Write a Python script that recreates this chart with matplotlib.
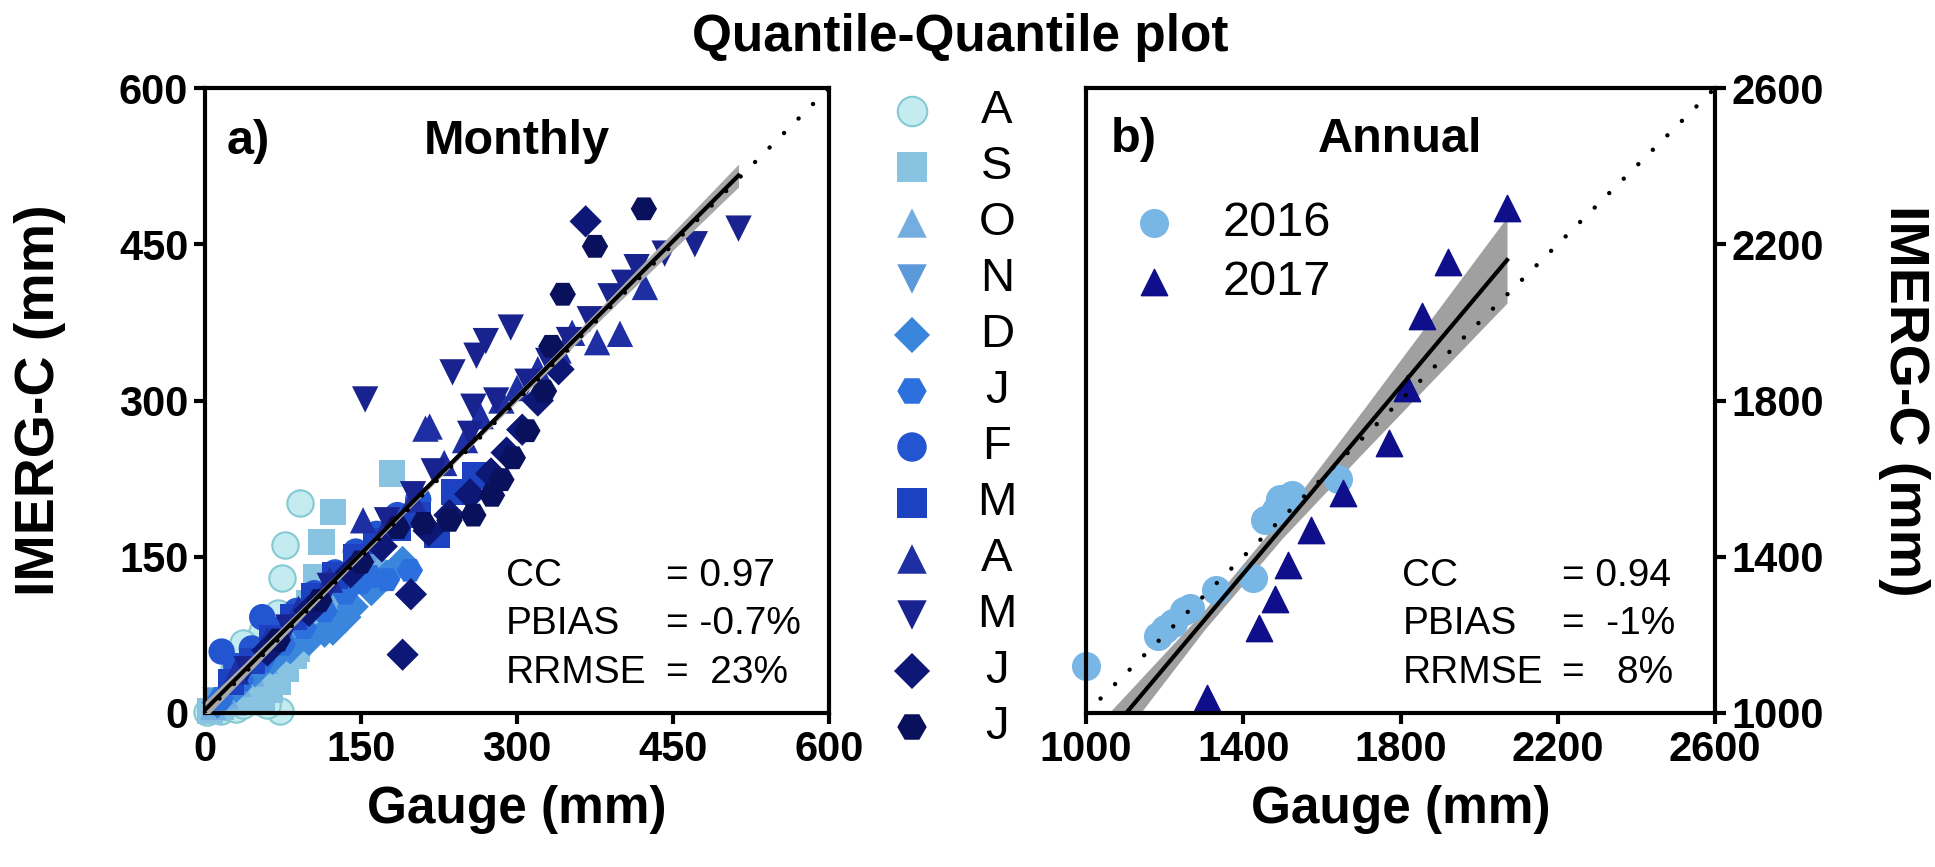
import numpy as np
import matplotlib
matplotlib.use('Agg')
import matplotlib.pyplot as plt

plt.rcParams['font.family'] = ['Liberation Sans', 'DejaVu Sans']

# ---- monthly quantiles (gauge mm, IMERG-C mm), Aug .. Jul ----
months = ['A', 'S', 'O', 'N', 'D', 'J', 'F', 'M', 'A', 'M', 'J', 'J']
month_markers = ['o', 's', '^', 'v', 'D', 'H', 'o', 's', '^', 'v', 'D', 'H']
month_colors = ['#c4ecf0', '#88c4e2', '#74aee0', '#5d9adb', '#3b86dd', '#2b70dc',
                '#2255cf', '#1c42c2', '#1d2fa3', '#19238f', '#0d1775', '#09115c']

aug_g = [2, 8, 15, 22, 30, 37, 43, 50, 57, 63, 67, 72, 46, 55, 37, 70, 74, 77, 91, 28, 20, 12, 60]
aug_i = [1, 3, 2, 6, 4, 8, 22, 12, 18, 26, 38, 2, 63, 78, 67, 96, 130, 161, 202, 42, 14, 10, 8]
sep_g = [5, 15, 28, 40, 55, 62, 70, 78, 85, 88, 95, 100, 107, 112, 123, 180]
sep_i = [2, 6, 10, 14, 12, 22, 30, 42, 55, 62, 80, 105, 130, 164, 193, 230]
oct_g = [8, 20, 32, 45, 58, 70, 82, 95, 108, 120, 135, 150, 165]
oct_i = [6, 16, 28, 38, 50, 62, 75, 88, 100, 112, 125, 140, 152]
nov_g = [10, 25, 40, 55, 70, 85, 100, 115, 130, 145, 160]
nov_i = [12, 26, 40, 55, 68, 82, 95, 108, 122, 135, 150]
dec_g = [12, 30, 48, 65, 82, 100, 115, 123, 135, 142, 160, 175, 190]
dec_i = [10, 25, 40, 52, 62, 70, 78, 80, 92, 102, 118, 132, 145]
jan_g = [15, 35, 55, 75, 95, 115, 135, 150, 159, 175, 197]
jan_i = [14, 32, 50, 66, 82, 98, 115, 125, 131, 128, 137]
feb_g = [16, 30, 45, 55, 70, 88, 105, 125, 145, 165, 185, 205]
feb_i = [59, 45, 62, 92, 80, 98, 115, 135, 155, 172, 190, 205]
mar_g = [25, 45, 65, 85, 105, 125, 145, 165, 185, 205, 223, 240, 260]
mar_i = [30, 50, 72, 92, 112, 132, 150, 165, 178, 190, 171, 212, 228]
apr_g = [30, 60, 90, 120, 152, 175, 200, 212, 230, 250, 265, 285, 300, 320, 340, 353, 377, 399, 423, 216]
apr_i = [40, 70, 100, 128, 185, 180, 205, 273, 240, 262, 285, 300, 312, 330, 348, 365, 356, 364, 409, 275]
may_g = [40, 80, 120, 154, 175, 200, 220, 238, 255, 261, 270, 294, 310, 330, 350, 370, 390, 403, 415, 442, 471, 513, 258, 280]
may_i = [42, 82, 122, 301, 185, 210, 232, 327, 268, 343, 357, 370, 318, 338, 358, 378, 400, 413, 428, 441, 450, 465, 294, 300]
jun_g = [60, 100, 140, 170, 190, 198, 215, 235, 255, 275, 290, 305, 320, 366, 340]
jun_i = [60, 98, 135, 160, 56, 114, 175, 190, 210, 230, 250, 272, 300, 472, 330]
jul_g = [70, 110, 150, 185, 210, 235, 258, 276, 285, 296, 310, 326, 333, 344, 375, 422]
jul_i = [70, 108, 145, 178, 182, 185, 190, 209, 224, 245, 271, 309, 352, 402, 448, 484]

monthly_gauge = [aug_g, sep_g, oct_g, nov_g, dec_g, jan_g, feb_g, mar_g, apr_g, may_g, jun_g, jul_g]
monthly_imerg = [aug_i, sep_i, oct_i, nov_i, dec_i, jan_i, feb_i, mar_i, apr_i, may_i, jun_i, jul_i]

monthly_fit = (1.0, 3.0)          # slope, intercept
monthly_band_x = [0, 128, 256, 384, 513]
monthly_band_hw = [8, 4, 3, 6, 11]

# ---- annual totals ----
g2016 = [1000, 1183, 1200, 1221, 1249, 1265, 1331, 1425, 1455, 1483, 1493, 1517, 1524, 1641]
i2016 = [1120, 1197, 1215, 1230, 1261, 1270, 1315, 1346, 1494, 1520, 1548, 1553, 1558, 1600]
g2017 = [1308, 1440, 1481, 1515, 1572, 1655, 1771, 1817, 1855, 1921, 2071]
i2017 = [1038, 1218, 1292, 1379, 1469, 1563, 1691, 1832, 2016, 2155, 2292]

annual_fit = (1.197, -319.5)
annual_band_x = [1000, 1100, 1300, 1500, 1700, 1900, 2071]
annual_band_hw = [60, 48, 25, 28, 54, 84, 110]

stat_names = ['CC', 'PBIAS', 'RRMSE']
monthly_stats = ['= 0.97', '= -0.7%', '=  23%']
annual_stats = ['= 0.94', '=  -1%', '=   8%']

monthly_ticks = [0, 150, 300, 450, 600]
annual_ticks = [1000, 1400, 1800, 2200, 2600]

W, H = 1935, 867
fig = plt.figure(figsize=(W / 100, H / 100), dpi=100)
ax1 = fig.add_axes([205 / W, (H - 713) / H, 624 / W, 625 / H])
ax2 = fig.add_axes([1086 / W, (H - 713) / H, 629 / W, 625 / H])
leg_ax = fig.add_axes([880 / W, (H - 755) / H, 160 / W, 672 / H])

MS = 360
for ax in (ax1, ax2):
    for sp in ax.spines.values():
        sp.set_linewidth(3)
    ax.tick_params(width=3, length=8, labelsize=30, pad=4)

# ---- panel a ----
for k in range(12):
    ec = '#84c9d3' if k == 0 else 'none'
    size = MS * 0.75 if month_markers[k] == 'D' else MS
    ax1.scatter(monthly_gauge[k], monthly_imerg[k], s=size, marker=month_markers[k],
                color=month_colors[k], edgecolors=ec, linewidths=1.5, zorder=2, clip_on=False)

bx = np.array(monthly_band_x, dtype=float)
by = monthly_fit[0] * bx + monthly_fit[1]
ax1.fill_between(bx, by - np.array(monthly_band_hw), by + np.array(monthly_band_hw),
                 color='#a8a8a8', lw=0, zorder=3)
ax1.plot(bx, by, color='black', lw=3, zorder=4)
ax1.plot(monthly_ticks[::4], monthly_ticks[::4], color='black', lw=3.2,
         linestyle=(0, (0.01, 4.6)), dash_capstyle='round', zorder=5)

ax1.set_xlim(0, 600)
ax1.set_ylim(0, 600)
ax1.set_xticks(monthly_ticks)
ax1.set_yticks(monthly_ticks)
ax1.text(0.035, 0.915, 'a)', transform=ax1.transAxes, fontsize=35, fontweight='bold', va='center')
ax1.text(0.5, 0.915, 'Monthly', transform=ax1.transAxes, fontsize=35, fontweight='bold',
         va='center', ha='center')
for r, (nm, val) in enumerate(zip(stat_names, monthly_stats)):
    yy = [0.219, 0.142, 0.064][r]
    ax1.text(0.482, yy, nm, transform=ax1.transAxes, fontsize=28, va='center')
    ax1.text(0.738, yy, val, transform=ax1.transAxes, fontsize=28, va='center')
ax1.set_xlabel('Gauge (mm)', fontsize=37, fontweight='bold', va='center')
ax1.xaxis.set_label_coords(0.5, (713 - 810) / 625)
ax1.set_ylabel('IMERG-C (mm)', fontsize=40, fontweight='bold', va='center')
ax1.yaxis.set_label_coords((40 - 205) / 624, 0.5)

# ---- month legend ----
for k in range(12):
    ec = '#84c9d3' if k == 0 else 'none'
    size = 450 * 0.75 if month_markers[k] == 'D' else 450
    leg_ax.scatter([0.2], [k], s=size, marker=month_markers[k], color=month_colors[k],
                   edgecolors=ec, linewidths=1.5, clip_on=False)
    leg_ax.text(0.73, k, months[k], fontsize=34, ha='center', va='center')
leg_ax.set_xlim(0, 1)
leg_ax.set_ylim(11.5, -0.5)
leg_ax.axis('off')

# ---- panel b ----
ax2.scatter(g2016, i2016, s=MS * 1.1, marker='o', color='#78b6e6', zorder=2,
            clip_on=False, label='2016')
ax2.scatter(g2017, i2017, s=MS, marker='^', color='#0f0f8c', zorder=2,
            clip_on=False, label='2017')
bx = np.array(annual_band_x, dtype=float)
by = annual_fit[0] * bx + annual_fit[1]
ax2.fill_between(bx, by - np.array(annual_band_hw), by + np.array(annual_band_hw),
                 color='#a0a0a0', lw=0, zorder=1)
ax2.plot(bx, by, color='black', lw=3, zorder=4)
ax2.plot(annual_ticks[::4], annual_ticks[::4], color='black', lw=3.2,
         linestyle=(0, (0.01, 4.6)), dash_capstyle='round', zorder=5)
ax2.set_xlim(1000, 2600)
ax2.set_ylim(1000, 2600)
ax2.set_xticks(annual_ticks)
ax2.set_yticks(annual_ticks)
ax2.yaxis.tick_right()
ax2.yaxis.set_label_position('right')
ax2.text(0.04, 0.918, 'b)', transform=ax2.transAxes, fontsize=35, fontweight='bold', va='center')
ax2.text(0.5, 0.918, 'Annual', transform=ax2.transAxes, fontsize=35, fontweight='bold',
         va='center', ha='center')
for r, (nm, val) in enumerate(zip(stat_names, annual_stats)):
    yy = [0.219, 0.142, 0.064][r]
    ax2.text(0.503, yy, nm, transform=ax2.transAxes, fontsize=28, va='center')
    ax2.text(0.757, yy, val, transform=ax2.transAxes, fontsize=28, va='center')
ax2.legend(loc='upper left', bbox_to_anchor=(0.07, 0.82), frameon=False, fontsize=35,
           handletextpad=0.9, labelspacing=0.3, borderpad=0, borderaxespad=0,
           scatterpoints=1, handlelength=1.0)
ax2.set_xlabel('Gauge (mm)', fontsize=37, fontweight='bold', va='center')
ax2.xaxis.set_label_coords(0.5, (713 - 810) / 625)
ax2.set_ylabel('IMERG-C (mm)', fontsize=40, fontweight='bold', rotation=270, va='center')
ax2.yaxis.set_label_coords((1904 - 1086) / 629, 0.5)

for ax in (ax1, ax2):
    for lab in ax.get_xticklabels() + ax.get_yticklabels():
        lab.set_fontweight('bold')

fig.text(960 / W, 1 - 37 / H, 'Quantile-Quantile plot', fontsize=37, fontweight='bold',
         ha='center', va='center')

fig.savefig('out.png', dpi=100)
